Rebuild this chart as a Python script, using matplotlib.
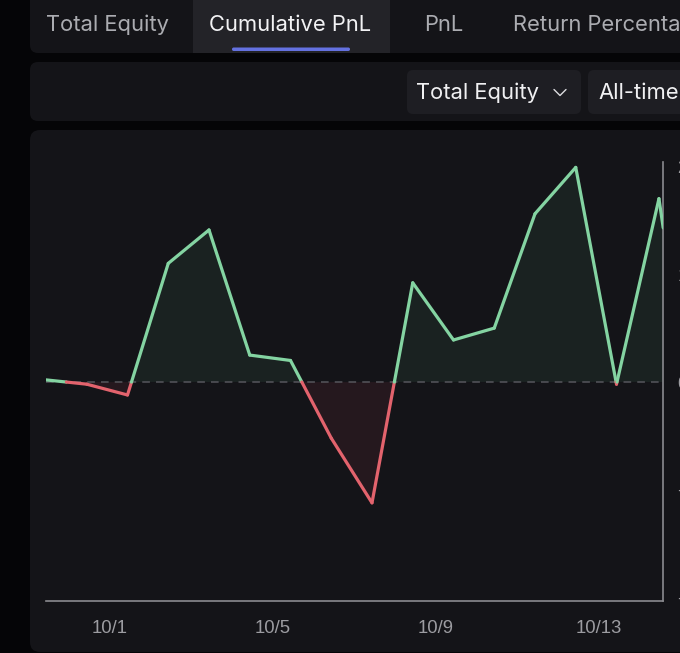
import numpy as np
import pandas as pd
import matplotlib
matplotlib.use("Agg")
import matplotlib.pyplot as plt
import matplotlib.dates as mdates
from matplotlib.patches import FancyBboxPatch, Rectangle
from matplotlib.collections import LineCollection

# ---------------- data ----------------
dates = ["2024-09-29 10:30", "2024-09-30 10:30", "2024-10-01 10:30", "2024-10-02 10:30",
         "2024-10-03 10:30", "2024-10-04 10:30", "2024-10-05 10:30", "2024-10-06 10:30",
         "2024-10-07 10:30", "2024-10-08 10:30", "2024-10-09 10:30", "2024-10-10 10:30",
         "2024-10-11 10:30", "2024-10-12 10:30", "2024-10-13 10:30", "2024-10-14 11:30",
         "2024-10-14 14:00"]
pnl = [2, -2, -12, 110, 141, 25, 20, -52, -112, 92, 39, 50, 156, 199, -2, 170, 143]
tick_dates = ["2024-10-01", "2024-10-05", "2024-10-09", "2024-10-13"]
tick_labels = ["10/1", "10/5", "10/9", "10/13"]
y_ticks = [-200, -100, 0, 100, 200]
y_tick_labels = ["-200", "-100", "0", "100", "200"]
tabs = ["Total Equity", "Cumulative PnL", "PnL", "Return Percentage"]
active_tab = "Cumulative PnL"
dropdowns = ["Total Equity", "All-time"]

# ---------------- colors ----------------
BG = "#050507"
PANEL = "#141418"
ACTIVE = "#232328"
BOX = "#1e1e23"
GREEN = "#84d4a2"
RED = "#e3636d"
BLUE = "#6471e0"

W, H = 680, 653
fig = plt.figure(figsize=(W / 100, H / 100), dpi=100, facecolor=BG)

# background axes in pixel coordinates
bg = fig.add_axes([0, 0, 1, 1])
bg.set_xlim(0, W)
bg.set_ylim(H, 0)
bg.axis("off")
bg.set_facecolor(BG)

def rbox(x0, y0, x1, y1, color, r=8):
    p = FancyBboxPatch((x0, y0), x1 - x0, y1 - y0,
                       boxstyle=f"round,pad=0,rounding_size={r}",
                       fc=color, ec="none", zorder=1)
    bg.add_patch(p)

UI_FONT = ["Inter", "DejaVu Sans"]

# tab bar panel
rbox(30, -20, 720, 53, PANEL)
bg.add_patch(Rectangle((193, 0), 197, 53, fc=ACTIVE, ec="none", zorder=2))
bg.add_patch(FancyBboxPatch((232, 47.5), 118, 3.5, boxstyle="round,pad=0,rounding_size=1.7",
                            fc=BLUE, ec="none", zorder=3))
tab_x = [46, 209, 424, 513]
for t, x in zip(tabs, tab_x):
    bg.text(x, 31, t, fontsize=15.8, family=UI_FONT,
            color="#f2f2f4" if t == active_tab else "#abacb1",
            ha="left", va="baseline", zorder=4)

# second panel with dropdowns
rbox(30, 62, 720, 121, PANEL)
rbox(407, 70, 581, 114, BOX, r=6)
rbox(588, 70, 760, 114, BOX, r=6)
bg.text(416, 99, dropdowns[0], fontsize=15.8, family=UI_FONT,
        color="#f0f0f2", ha="left", va="baseline", zorder=4)
bg.plot([554, 560, 566], [89.5, 95.5, 89.5], color="#dcdce0", lw=1.0, zorder=4,
        solid_capstyle="round", solid_joinstyle="round")
bg.text(598, 99, dropdowns[1], fontsize=15.8, family=UI_FONT,
        color="#f0f0f2", ha="left", va="baseline", zorder=4)

# chart panel
rbox(30, 130, 720, 652, PANEL, r=10)

# ---------------- chart ----------------
x_left, x_right, y_top, y_bot = 46, 663, 162, 601
ax = fig.add_axes([x_left / W, 1 - y_bot / H, (x_right - x_left) / W, (y_bot - y_top) / H])
ax.set_facecolor("none")

t = mdates.date2num(pd.to_datetime(dates))
v = np.array(pnl, dtype=float)

# insert zero crossings so colours switch exactly at zero
xs, ys = [t[0]], [v[0]]
for i in range(1, len(t)):
    if v[i - 1] * v[i] < 0:
        f = v[i - 1] / (v[i - 1] - v[i])
        xs.append(t[i - 1] + f * (t[i] - t[i - 1]))
        ys.append(0.0)
    xs.append(t[i])
    ys.append(v[i])
xs = np.array(xs)
ys = np.array(ys)

ax.fill_between(xs, ys, 0, where=ys >= 0, color="#1c2624", alpha=0.8, lw=0, interpolate=True, zorder=1)
ax.fill_between(xs, ys, 0, where=ys <= 0, color="#2a1a20", alpha=0.8, lw=0, interpolate=True, zorder=1)

segs = np.stack([np.column_stack([xs[:-1], ys[:-1]]), np.column_stack([xs[1:], ys[1:]])], axis=1)
cols = [GREEN if (a + b) / 2 >= 0 else RED for a, b in zip(ys[:-1], ys[1:])]
lc = LineCollection(segs, colors=cols, linewidths=2.3, capstyle="round", joinstyle="round", zorder=3)
ax.add_collection(lc)

ax.axhline(0, color="#56565c", lw=1.1, ls=(0, (5, 4)), zorder=2)

x0 = t[0]
ax.set_xlim(x0, x0 + (x_right - x_left) / 40.75)
ax.set_ylim(-203, 204)

for s in ["top", "left"]:
    ax.spines[s].set_visible(False)
for s in ["bottom", "right"]:
    ax.spines[s].set_color("#8a8a8f")
    ax.spines[s].set_linewidth(1.2)

ax.set_xticks(mdates.date2num(pd.to_datetime(tick_dates)))
ax.set_xticklabels(tick_labels)
ax.tick_params(axis="x", length=0, pad=14, labelsize=13.3, labelcolor="#9c9ca1")
ax.yaxis.tick_right()
ax.set_yticks(y_ticks)
ax.set_yticklabels(y_tick_labels)
ax.tick_params(axis="y", length=0, pad=10.5, labelsize=13.3, labelcolor="#9c9ca1")
for lab in ax.get_xticklabels() + ax.get_yticklabels():
    lab.set_family(["Liberation Sans", "DejaVu Sans"])

fig.savefig("out.png", dpi=100, facecolor=BG)
